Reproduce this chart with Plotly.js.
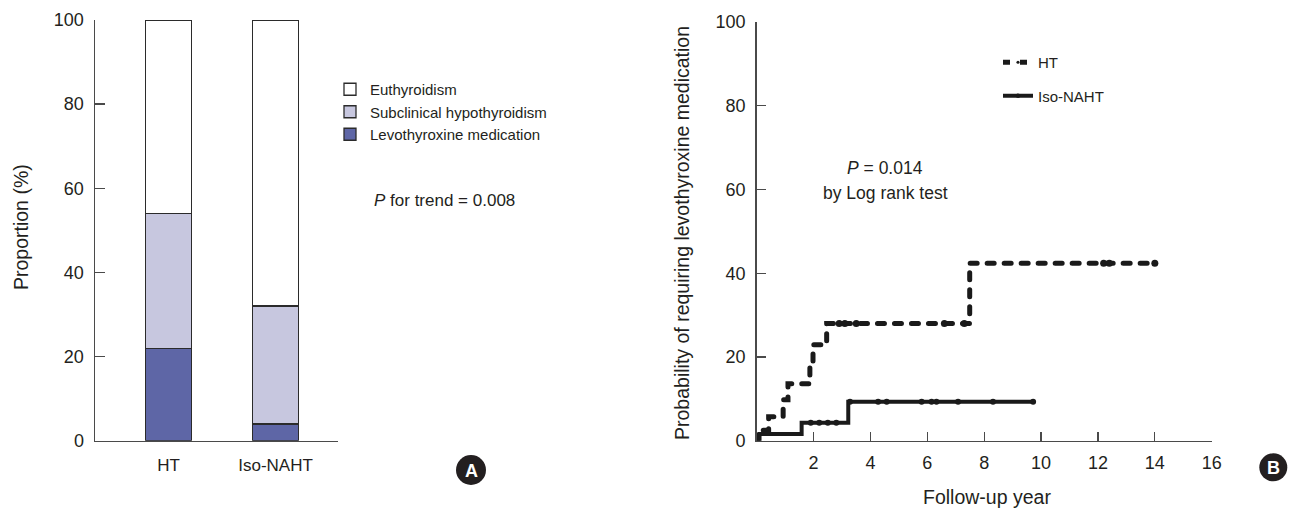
<!DOCTYPE html>
<html>
<head>
<meta charset="utf-8">
<script src="https://cdn.plot.ly/plotly-3.0.1.min.js"></script>
<style>
  html, body { margin: 0; padding: 0; background: #fff; }
  #chart { width: 1291px; height: 516px; }
  .scatterlayer .js-line, .legend .js-line { stroke-linecap: round; }
</style>
</head>
<body>
<div id="chart"></div>
<script>
// ---------- Panel A data ----------
const groups = ['HT', 'Iso-NAHT'];
const levothyroxine = [22, 4];
const subclinical = [32, 28];
const euthyroidism = [46, 68];
const seriesNames = ['Levothyroxine medication', 'Subclinical hypothyroidism', 'Euthyroidism'];

// ---------- Panel B data (Kaplan-Meier steps, % vs years) ----------
const htYears = [0, 0.05, 0.42, 0.93, 1.1, 1.87, 1.98, 2.46, 7.49, 14.0];
const htProb  = [0, 2.5, 5.7, 9.8, 13.6, 18.1, 22.9, 28.0, 42.4, 42.4];
const htCensor = [2.9, 3.1, 3.5, 6.6, 7.3, 12.2, 12.4, 14.0];

const isoYears = [0, 0.1, 1.58, 3.22, 9.72];
const isoProb  = [0, 1.6, 4.3, 9.3, 9.3];
const isoCensor = [1.9, 2.2, 2.5, 2.8, 3.28, 4.27, 4.57, 5.8, 6.15, 6.32, 7.08, 8.31, 9.72];

const xTicksB = [2, 4, 6, 8, 10, 12, 14, 16];
const yTicks = [0, 20, 40, 60, 80, 100];

// ---------- helpers ----------
const W = 1291, H = 516;
const px = v => v / W;
const py = v => 1 - v / H;
const FONT = 'Liberation Sans, Arial, Helvetica, sans-serif';
const INK = '#231f20';
const AX = '#4a4a4a';

function mergeCensor(ts, ps, cs, dotSize) {
  const pts = ts.map((t, i) => ({t: t, p: ps[i], s: 0}));
  cs.forEach(c => {
    let p = ps[0];
    for (let i = 0; i < ts.length; i++) if (ts[i] <= c) p = ps[i];
    pts.push({t: c, p: p, s: dotSize});
  });
  pts.sort((a, b) => a.t - b.t || a.s - b.s);
  return {x: pts.map(d => d.t), y: pts.map(d => d.p), s: pts.map(d => d.s)};
}

const barColors = ['#5e66a6', '#c7c7df', '#ffffff'];
const barVals = [levothyroxine, subclinical, euthyroidism];

const traces = barVals.map((vals, i) => ({
  type: 'bar',
  x: groups,
  y: vals,
  name: seriesNames[i],
  xaxis: 'x', yaxis: 'y',
  width: 0.425,
  marker: {color: barColors[i], line: {color: '#2b2b2b', width: 1.3}},
  legend: 'legend',
  hoverinfo: 'skip'
}));

const ht = mergeCensor(htYears, htProb, htCensor, 7);
const iso = mergeCensor(isoYears, isoProb, isoCensor, 6);

traces.push({
  type: 'scatter', mode: 'lines+markers',
  x: ht.x, y: ht.y, name: 'HT',
  xaxis: 'x2', yaxis: 'y2',
  line: {shape: 'hv', color: '#1a1a1a', width: 5, dash: '7px,10px'},
  marker: {size: ht.s, color: '#1a1a1a', symbol: 'circle', opacity: 1, line: {width: 0}},
  legend: 'legend2', legendgroup: 'ht',
  hoverinfo: 'skip', cliponaxis: false
});
traces.push({
  type: 'scatter', mode: 'lines+markers',
  x: iso.x, y: iso.y, name: 'Iso-NAHT',
  xaxis: 'x2', yaxis: 'y2',
  line: {shape: 'hv', color: '#1a1a1a', width: 4},
  marker: {size: iso.s, color: '#1a1a1a', symbol: 'circle', opacity: 1, line: {width: 0}},
  legend: 'legend2', legendgroup: 'iso',
  hoverinfo: 'skip', cliponaxis: false
});

const axisCommon = {
  showgrid: false, zeroline: false, showline: true,
  linecolor: AX, linewidth: 1.5,
  tickcolor: AX, tickwidth: 1.3,
  tickfont: {family: FONT, size: 18, color: INK},
  fixedrange: true
};

function ann(x, y, text, size, extra) {
  return Object.assign({
    xref: 'paper', yref: 'paper', x: px(x), y: py(y), text: text,
    xanchor: 'center', yanchor: 'middle', showarrow: false,
    font: {size: size, family: FONT, color: INK}
  }, extra || {});
}

const layout = {
  width: W, height: H,
  margin: {l: 0, r: 0, t: 0, b: 0},
  paper_bgcolor: '#fff', plot_bgcolor: 'rgba(0,0,0,0)',
  barmode: 'stack',
  font: {family: FONT, color: INK},
  showlegend: true,
  xaxis: Object.assign({}, axisCommon, {
    domain: [px(95), px(337.7)], anchor: 'y',
    type: 'category', range: [-0.687, 1.581],
    ticks: '', ticklabelstandoff: 8,
    tickfont: {family: FONT, size: 17, color: INK}
  }),
  yaxis: Object.assign({}, axisCommon, {
    domain: [py(440.7), py(20)], anchor: 'x',
    range: [0, 100], tickvals: yTicks, ticks: 'inside', ticklen: 10,
    ticklabelstandoff: 6
  }),
  xaxis2: Object.assign({}, axisCommon, {
    domain: [px(756.7), px(1211.7)], anchor: 'y2',
    range: [0, 16], tickvals: xTicksB, ticks: 'inside', ticklen: 9,
    ticklabelstandoff: 5
  }),
  yaxis2: Object.assign({}, axisCommon, {
    domain: [py(440.7), py(22)], anchor: 'x2',
    range: [0, 100], tickvals: yTicks, ticks: 'inside', ticklen: 9,
    ticklabelstandoff: 6
  }),
  legend: {
    x: px(330), y: py(73), xanchor: 'left', yanchor: 'top',
    traceorder: 'reversed', bgcolor: 'rgba(0,0,0,0)',
    font: {family: FONT, size: 15, color: INK},
    itemclick: false, itemdoubleclick: false
  },
  legend2: {
    x: px(998), y: py(46), xanchor: 'left', yanchor: 'top',
    traceorder: 'grouped', tracegroupgap: 11, bgcolor: 'rgba(0,0,0,0)',
    font: {family: FONT, size: 15, color: INK},
    itemclick: false, itemdoubleclick: false
  },
  annotations: [
    ann(21, 227, 'Proportion (%)', 19.5, {textangle: -90}),
    ann(682, 233, 'Probability of requiring levothyroxine medication', 19.5, {textangle: -90}),
    ann(987, 497, 'Follow-up year', 19.5),
    ann(372, 200, '<i>P</i> for trend = 0.008', 17, {xanchor: 'left'}),
    ann(885, 168, '<i>P</i> = 0.014', 17.5),
    ann(885, 193, 'by Log rank test', 17.5),
    ann(471, 470.5, '<b>A</b>', 18, {font: {size: 18, family: FONT, color: '#fff'}}),
    ann(1273.3, 468, '<b>B</b>', 18, {font: {size: 18, family: FONT, color: '#fff'}})
  ],
  shapes: [
    {type: 'circle', xref: 'paper', yref: 'paper', layer: 'below',
     x0: px(456), x1: px(486), y0: py(455), y1: py(485),
     fillcolor: '#231f20', line: {width: 0}},
    {type: 'circle', xref: 'paper', yref: 'paper', layer: 'below',
     x0: px(1259.3), x1: px(1287.3), y0: py(453.3), y1: py(481.3),
     fillcolor: '#231f20', line: {width: 0}}
  ]
};

Plotly.newPlot('chart', traces, layout, {displayModeBar: false, staticPlot: true});
</script>
</body>
</html>
